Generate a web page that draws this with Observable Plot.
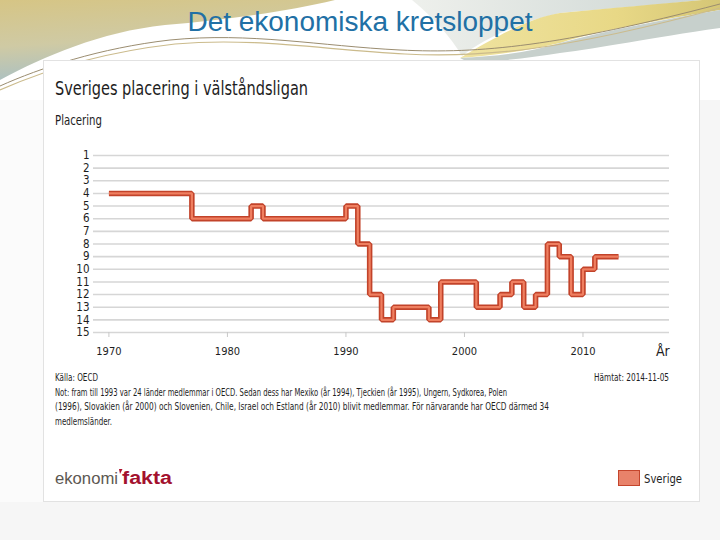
<!DOCTYPE html>
<html><head><meta charset="utf-8">
<script src="https://cdn.jsdelivr.net/npm/d3@7"></script>
<script src="https://cdn.jsdelivr.net/npm/@observablehq/plot@0.6"></script>
<style>
html,body{margin:0;padding:0;width:720px;height:540px;overflow:hidden;background:#f5f5f5;}
#bg{position:absolute;left:0;top:0;}
#chart{position:absolute;left:44px;top:140px;}
.n{font-family:"Liberation Sans Narrow","DejaVu Sans Condensed","Arial Narrow",sans-serif;}
</style></head><body>
<svg id="bg" width="720" height="540" xmlns="http://www.w3.org/2000/svg">
<defs>
<linearGradient id="gl" x1="0" y1="0" x2="0.25" y2="1">
<stop offset="0" stop-color="#d6c585"/><stop offset="0.55" stop-color="#cfcaa4"/><stop offset="1" stop-color="#a9c0c4"/>
</linearGradient>
<linearGradient id="gr" x1="0" y1="0" x2="1" y2="0">
<stop offset="0" stop-color="#efe3a0"/><stop offset="0.6" stop-color="#e8d886"/><stop offset="1" stop-color="#d5c676"/>
</linearGradient>
<linearGradient id="gg" x1="0" y1="0" x2="1" y2="0">
<stop offset="0" stop-color="#eef0ec"/><stop offset="1" stop-color="#cdd6d3"/>
</linearGradient>
</defs>
<rect x="0" y="0" width="720" height="540" fill="#f6f6f6"/>
<rect x="0" y="0" width="720" height="100" fill="#ffffff"/>
<rect x="0" y="100" width="43" height="402" fill="#fbfbfb"/>
<path d="M0,0 H335 C285,12 225,20 165,25 C100,32 45,56 0,80 Z" fill="url(#gl)"/>
<path d="M412,0 H702 C650,6 600,9 560,13 C520,22 485,38 462,56 C450,36 432,16 412,0 Z" fill="url(#gg)"/>
<path d="M702,0 H720 V10 C660,20 600,30 560,43 C520,52 490,56 460,58 C500,34 530,18 560,13 C610,8 660,4 702,0 Z" fill="url(#gr)"/>
<path d="M720,10 V28 C650,38 600,48 560,53 C530,58 500,61 470,63 L460,58 C500,56 530,52 560,43 C610,30 660,20 720,10 Z" fill="#c7d0cc"/>
<path d="M0,86 C40,68 100,48 170,40 C250,32 320,46 400,50 C480,54 560,46 720,4" stroke="#9b8d70" stroke-width="1" fill="none"/>
<path d="M0,90 C45,70 105,52 175,44 C255,37 325,50 405,54 C485,58 565,50 720,8" stroke="#cbbb8c" stroke-width="1.2" fill="none"/>
<rect x="43.5" y="60.5" width="656" height="441" fill="#ffffff" stroke="#e2e2e2" stroke-width="1"/>
<text x="360" y="31" text-anchor="middle" font-family="Liberation Sans, Arial, sans-serif" font-size="27" fill="#2170a5" textLength="345" lengthAdjust="spacingAndGlyphs">Det ekonomiska kretsloppet</text>
<g class="n" fill="#1e1e1e">
<text x="55" y="95" font-size="20" textLength="253" lengthAdjust="spacingAndGlyphs">Sveriges placering i välståndsligan</text>
<text x="55" y="125" font-size="13.5" textLength="47" lengthAdjust="spacingAndGlyphs">Placering</text>
<text x="656" y="356" font-size="14">År</text>
<text x="55" y="381" font-size="10" textLength="43" lengthAdjust="spacingAndGlyphs">Källa: OECD</text>
<text x="669" y="381" font-size="10" text-anchor="end" textLength="75" lengthAdjust="spacingAndGlyphs">Hämtat: 2014-11-05</text>
<text x="55" y="395.5" font-size="10" textLength="452" lengthAdjust="spacingAndGlyphs">Not: fram till 1993 var 24 länder medlemmar i OECD. Sedan dess har Mexiko (år 1994), Tjeckien (år 1995), Ungern, Sydkorea, Polen</text>
<text x="55" y="410" font-size="10" textLength="494" lengthAdjust="spacingAndGlyphs">(1996), Slovakien (år 2000) och Slovenien, Chile, Israel och Estland (år 2010) blivit medlemmar. För närvarande har OECD därmed 34</text>
<text x="55" y="424.5" font-size="10" textLength="57" lengthAdjust="spacingAndGlyphs">medlemsländer.</text>
<text x="644" y="483" font-size="13" textLength="38" lengthAdjust="spacingAndGlyphs">Sverige</text>
</g>
<text x="55" y="484" font-family="Liberation Sans, Arial, sans-serif" font-size="17" fill="#5d5852" textLength="63" lengthAdjust="spacingAndGlyphs">ekonomi</text>
<path d="M119,469 l3.5,0 l-2.5,5 z" fill="#b0122f"/>
<text x="122" y="484" font-family="Liberation Sans, Arial, sans-serif" font-size="18" font-weight="bold" fill="#a3112e" textLength="50" lengthAdjust="spacingAndGlyphs">fakta</text>
<rect x="618.5" y="470.5" width="21" height="15" fill="#e8826a" stroke="#c4452c" stroke-width="1"/>
</svg>
<div id="chart"></div>
<script>
const years = [1970,1971,1972,1973,1974,1975,1976,1977,1978,1979,1980,1981,1982,1983,1984,1985,1986,1987,1988,1989,1990,1991,1992,1993,1994,1995,1996,1997,1998,1999,2000,2001,2002,2003,2004,2005,2006,2007,2008,2009,2010,2011,2012,2013];
const placering = [4,4,4,4,4,4,4,6,6,6,6,6,5,6,6,6,6,6,6,6,5,8,12,14,13,13,13,14,11,11,11,13,13,12,11,13,12,8,9,12,10,9,9,9];
const rankTicks = [1,2,3,4,5,6,7,8,9,10,11,12,13,14,15];
const yearTicks = [1970,1980,1990,2000,2010];

const data = years.map((year, i) => ({year, placering: placering[i]}));
const NARROW = "'Liberation Sans Narrow','DejaVu Sans Condensed','Arial Narrow',sans-serif";

const chart = Plot.plot({
  width: 640,
  height: 240,
  marginLeft: 49,
  marginRight: 15,
  marginTop: 15,
  marginBottom: 48,
  style: {fontFamily: NARROW, fontSize: "12px", color: "#1e1e1e", background: "transparent", overflow: "visible"},
  x: {domain: [1968.7, 2017.3]},
  y: {domain: [1, 15], reverse: true},
  marks: [
    Plot.ruleY(rankTicks, {stroke: "#d6d6d6", strokeWidth: 1.6}),
    Plot.axisY(rankTicks, {tickSize: 0, tickPadding: 4, fontSize: 11.5, fill: "#1e1e1e", label: null}),
    Plot.axisX(yearTicks, {tickSize: 5, tickPadding: 10, tickFormat: d => String(d), stroke: "#c8c8c8", fill: "#1e1e1e", fontSize: 11, label: null}),
    Plot.line(data, {x: "year", y: "placering", curve: "step-after", stroke: "#c2432a", strokeWidth: 5.5, strokeLinejoin: "miter", strokeLinecap: "butt"}),
    Plot.line(data, {x: "year", y: "placering", curve: "step-after", stroke: "#ef7f60", strokeWidth: 2.2, strokeLinejoin: "miter", strokeLinecap: "butt"})
  ]
});
document.getElementById("chart").appendChild(chart);
</script>
</body></html>
